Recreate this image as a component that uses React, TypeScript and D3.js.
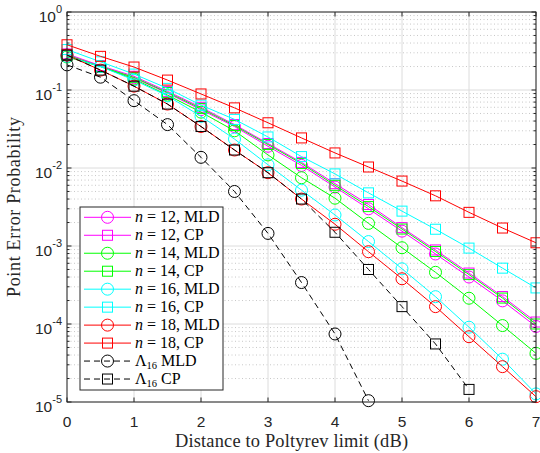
import React from "react";
import * as d3 from "d3";

const snr = [0, 0.5, 1, 1.5, 2, 2.5, 3, 3.5, 4, 4.5, 5, 5.5, 6, 6.5, 7];

const n12MLD = [0.28, 0.2, 0.143, 0.091, 0.056, 0.034, 0.019, 0.0108, 0.0057, 0.003, 0.00155, 0.00079, 0.0004, 0.000198, 0.000093];
const n12CP = [0.29, 0.205, 0.15, 0.096, 0.06, 0.036, 0.0206, 0.0118, 0.0063, 0.0034, 0.00172, 0.00089, 0.00045, 0.000225, 0.000106];
const n14MLD = [0.265, 0.2, 0.138, 0.086, 0.052, 0.03, 0.0147, 0.0075, 0.0041, 0.00195, 0.00095, 0.00046, 0.000214, 0.0000955, 0.000042];
const n14CP = [0.28, 0.2, 0.145, 0.093, 0.058, 0.035, 0.02, 0.0114, 0.006, 0.0032, 0.00165, 0.00085, 0.00043, 0.000215, 0.0001];
const n16MLD = [0.27, 0.2, 0.134, 0.084, 0.046, 0.0235, 0.011, 0.0052, 0.0025, 0.00114, 0.00051, 0.000224, 0.0000909, 0.0000354, 0.0000127];
const n16CP = [0.33, 0.23, 0.16, 0.105, 0.064, 0.042, 0.025, 0.014, 0.0084, 0.0048, 0.0028, 0.00164, 0.00094, 0.00052, 0.00029];
const n18MLD = [0.28, 0.18, 0.112, 0.066, 0.034, 0.017, 0.0087, 0.004, 0.0019, 0.000845, 0.00038, 0.000167, 0.0000687, 0.0000284, 0.0000117];
const n18CP = [0.38, 0.27, 0.197, 0.134, 0.089, 0.059, 0.038, 0.0243, 0.0156, 0.0103, 0.0068, 0.0044, 0.0027, 0.0017, 0.0011];
const lamMLD = [0.21, 0.146, 0.073, 0.036, 0.0137, 0.005, 0.00145, 0.00034, 0.0000745, 0.0000104];
const lamCP = [0.28, 0.18, 0.112, 0.066, 0.034, 0.017, 0.0087, 0.004, 0.0015, 0.0005, 0.000167, 0.0000555, 0.0000145];

const xTicks = [0, 1, 2, 3, 4, 5, 6, 7];
const yDecades = [0, -1, -2, -3, -4, -5];

type Series = { n: string; kind: string; values: number[]; color: string; marker: "o" | "s"; dashed: boolean; lam: boolean };

const series: Series[] = [
  { n: "12", kind: "MLD", values: n12MLD, color: "#ff00ff", marker: "o", dashed: false, lam: false },
  { n: "12", kind: "CP", values: n12CP, color: "#ff00ff", marker: "s", dashed: false, lam: false },
  { n: "14", kind: "MLD", values: n14MLD, color: "#00ff00", marker: "o", dashed: false, lam: false },
  { n: "14", kind: "CP", values: n14CP, color: "#00ff00", marker: "s", dashed: false, lam: false },
  { n: "16", kind: "MLD", values: n16MLD, color: "#00ffff", marker: "o", dashed: false, lam: false },
  { n: "16", kind: "CP", values: n16CP, color: "#00ffff", marker: "s", dashed: false, lam: false },
  { n: "18", kind: "MLD", values: n18MLD, color: "#ff0000", marker: "o", dashed: false, lam: false },
  { n: "18", kind: "CP", values: n18CP, color: "#ff0000", marker: "s", dashed: false, lam: false },
  { n: "16", kind: "MLD", values: lamMLD, color: "#000000", marker: "o", dashed: true, lam: true },
  { n: "16", kind: "CP", values: lamCP, color: "#000000", marker: "s", dashed: true, lam: true },
];

const W = 540, H = 453;
const X0 = 67, X1 = 536, Y0 = 12, Y1 = 402;

const x = d3.scaleLinear().domain([0, 7]).range([X0, X1]);
const y = d3.scaleLog().domain([1e-5, 1]).range([Y1, Y0]);

const axisColor = "#262626";
const sans = "'Liberation Sans', Arial, Helvetica, sans-serif";
const serif = "'Liberation Serif', 'Times New Roman', serif";

function Marker({ cx, cy, m, color }: { cx: number; cy: number; m: "o" | "s"; color: string }) {
  if (m === "o") return <circle cx={cx} cy={cy} r={6} fill="none" stroke={color} strokeWidth={1} />;
  return <rect x={cx - 5} y={cy - 5} width={10} height={10} fill="none" stroke={color} strokeWidth={1} />;
}

export default function App() {
  const line = d3
    .line<[number, number]>()
    .x((d) => x(d[0]))
    .y((d) => y(d[1]));

  const minor: number[] = [];
  for (let e = -5; e < 0; e++) for (let k = 2; k <= 9; k++) minor.push(k * Math.pow(10, e));

  const legendX = 80, legendY = 207, legendW = 143, legendH = 183;
  const rowY0 = 217.3, rowStep = 17.97;

  return (
    <svg width={W} height={H} style={{ position: "absolute", left: 0, top: 0, background: "#fff" }}>
      <rect x={0} y={0} width={W} height={H} fill="#fff" />
      {/* grid */}
      {minor.map((v, i) => (
        <line key={"mg" + i} x1={X0} x2={X1} y1={y(v)} y2={y(v)} stroke="#b0b0b0" strokeWidth={0.7} strokeDasharray="1,2.5" />
      ))}
      {yDecades.map((e) => (
        <line key={"yg" + e} x1={X0} x2={X1} y1={y(Math.pow(10, e))} y2={y(Math.pow(10, e))} stroke="#dcdcdc" strokeWidth={1} />
      ))}
      {xTicks.map((t) => (
        <line key={"xg" + t} x1={x(t)} x2={x(t)} y1={Y0} y2={Y1} stroke="#dcdcdc" strokeWidth={1} />
      ))}

      {/* series */}
      {series.map((s, si) => {
        const pts: [number, number][] = s.values.map((v, i) => [snr[i], v]);
        return (
          <g key={"s" + si}>
            <path d={line(pts) || ""} fill="none" stroke={s.color} strokeWidth={1} strokeDasharray={s.dashed ? "6,4" : undefined} />
            {pts.map((p, i) => (
              <Marker key={i} cx={x(p[0])} cy={y(p[1])} m={s.marker} color={s.color} />
            ))}
          </g>
        );
      })}

      {/* axes box */}
      <rect x={X0} y={Y0} width={X1 - X0} height={Y1 - Y0} fill="none" stroke={axisColor} strokeWidth={1} />
      {xTicks.map((t) => (
        <g key={"xt" + t}>
          <line x1={x(t)} x2={x(t)} y1={Y1} y2={Y1 - 4.5} stroke={axisColor} />
          <line x1={x(t)} x2={x(t)} y1={Y0} y2={Y0 + 4.5} stroke={axisColor} />
          <text x={x(t)} y={426.5} textAnchor="middle" fontFamily={sans} fontSize={15.5} fill={axisColor}>
            {t}
          </text>
        </g>
      ))}
      {yDecades.map((e) => {
        const yy = y(Math.pow(10, e));
        return (
          <g key={"yt" + e}>
            <line x1={X0} x2={X0 + 4.5} y1={yy} y2={yy} stroke={axisColor} />
            <line x1={X1} x2={X1 - 4.5} y1={yy} y2={yy} stroke={axisColor} />
            <text x={X0 - 5} y={yy + 9.5} textAnchor="end" fontFamily={sans} fontSize={15.5} fill={axisColor}>
              10<tspan dy={-9} fontSize={11}>{String(e)}</tspan>
            </text>
          </g>
        );
      })}
      {minor.map((v, i) => (
        <g key={"mt" + i}>
          <line x1={X0} x2={X0 + 2.5} y1={y(v)} y2={y(v)} stroke={axisColor} />
          <line x1={X1} x2={X1 - 2.5} y1={y(v)} y2={y(v)} stroke={axisColor} />
        </g>
      ))}

      {/* axis labels */}
      <text x={291.5} y={447} textAnchor="middle" fontFamily={serif} fontSize={18.4} fill={axisColor} textLength={233}>
        Distance to Poltyrev limit (dB)
      </text>
      <text transform={`translate(20,207) rotate(-90)`} textAnchor="middle" fontFamily={serif} fontSize={18} fill={axisColor} textLength={180}>
        Point Error Probability
      </text>

      {/* legend */}
      <rect x={legendX} y={legendY} width={legendW} height={legendH} fill="#fff" stroke={axisColor} strokeWidth={1} />
      {series.map((s, i) => {
        const ry = rowY0 + i * rowStep;
        return (
          <g key={"lg" + i}>
            <line x1={84} x2={131} y1={ry} y2={ry} stroke={s.color} strokeWidth={1} strokeDasharray={s.dashed ? "6,4" : undefined} />
            <Marker cx={107.5} cy={ry} m={s.marker} color={s.color} />
            <text x={135} y={ry + 5} fontFamily={serif} fontSize={16} fill="#000">
              {s.lam ? (
                <>
                  Λ<tspan dy={3} fontSize={10.5}>{s.n}</tspan>
                  <tspan dy={-3}> {s.kind}</tspan>
                </>
              ) : (
                <>
                  <tspan fontStyle="italic">n</tspan> = {s.n}, {s.kind}
                </>
              )}
            </text>
          </g>
        );
      })}
    </svg>
  );
}
